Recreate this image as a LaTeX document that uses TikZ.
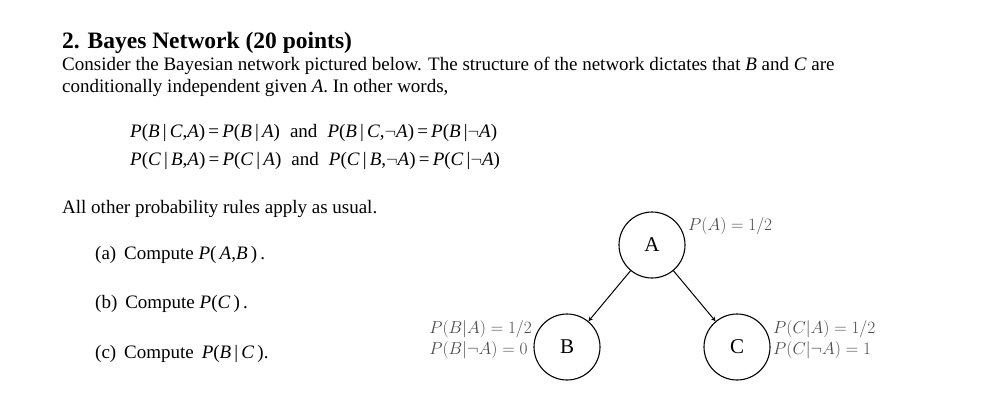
\documentclass[tikz,border=0pt]{standalone}
\usepackage{fontspec}
\setmainfont{Liberation Serif}
\newcommand{\mi}[1]{\textit{#1}}
\newcommand{\myneg}{$\neg$}
\begin{document}
\begin{tikzpicture}[x=1pt,y=-1pt,
  txt/.style={anchor=base west,inner sep=0pt,font=\fontsize{19}{23}\selectfont},
  nd/.style={circle,draw,line width=1.1pt,minimum size=66pt,inner sep=0pt,font=\fontsize{21}{24}\selectfont},
  lab/.style={inner sep=0pt,text=black!70,font=\fontsize{16}{19}\selectfont},
  arr/.style={-stealth,line width=1pt}]
\useasboundingbox (0,0) rectangle (991,407);
\node[txt,font=\bfseries\fontsize{23.5}{27}\selectfont] (t) at (62,48) {2. Bayes Network (20 points)};
\node[txt] (l1) at (62,70) {Consider the Bayesian network pictured below. The structure of the network dictates that \mi{B} and \mi{C} are};
\node[txt] (l2) at (62,92) {conditionally independent given \mi{A}. In other words,};
\node[txt] (e1) at (130,137) {\mi{P}(\mi{B}\,|\,\mi{C},\mi{A})\,=\,\mi{P}(\mi{B}\,|\,\mi{A})\; and \;\mi{P}(\mi{B}\,|\,\mi{C},\myneg\mi{A})\,=\,\mi{P}(\mi{B}\,|\myneg\mi{A})};
\node[txt] (e2) at (130,165) {\mi{P}(\mi{C}\,|\,\mi{B},\mi{A})\,=\,\mi{P}(\mi{C}\,|\,\mi{A})\; and \;\mi{P}(\mi{C}\,|\,\mi{B},\myneg\mi{A})\,=\,\mi{P}(\mi{C}\,|\myneg\mi{A})};
\node[txt] (l3) at (62,213) {All other probability rules apply as usual.};
\node[txt] (qa) at (95,259) {(a)\, Compute \mi{P}(\,\mi{A},\mi{B}\,)\,.};
\node[txt] (qb) at (95,308) {(b)\, Compute \mi{P}(\mi{C}\,)\,.};
\node[txt] (qc) at (95,358) {(c)\, Compute \,\mi{P}(\mi{B}\,|\,\mi{C}\,).};
\node[nd] (A) at (652,245) {A};
\node[nd] (B) at (567,347) {B};
\node[nd] (C) at (737,347) {C};
\draw[arr] (A) -- (B);
\draw[arr] (A) -- (C);
\node[lab,anchor=west] (pa) at (688,226) {$P(A)=1/2$};
\node[lab,anchor=east,align=left] (pb) at (532,340) {$P(B|A)=1/2$\\[2pt]$P(B|\neg A)=0$};
\node[lab,anchor=west,align=left] (pc) at (773,340) {$P(C|A)=1/2$\\[2pt]$P(C|\neg A)=1$};
\end{tikzpicture}
\end{document}
